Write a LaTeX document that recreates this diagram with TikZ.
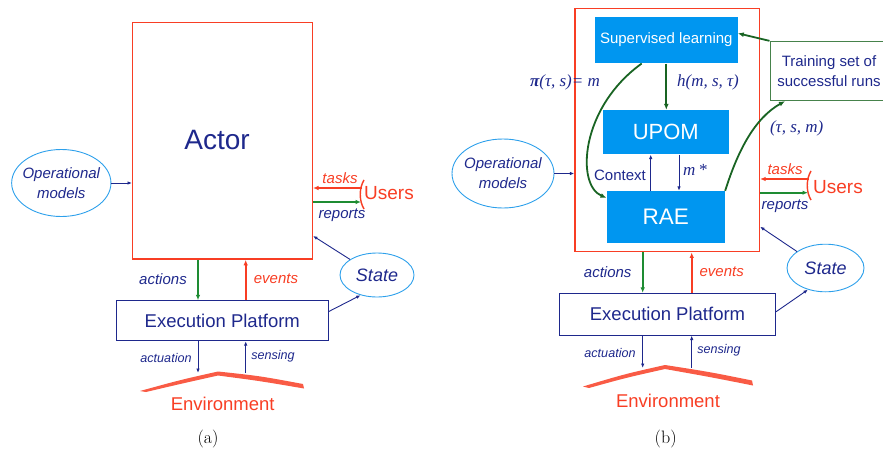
\documentclass[tikz,border=0pt]{standalone}
\usepackage{fontspec}
\newfontfamily\arialf{Liberation Sans}
\newfontfamily\timesf{Liberation Serif}
\usepackage{xcolor}
\usepackage{tikz}
\usetikzlibrary{positioning,calc,shapes.geometric,arrows.meta}

\definecolor{actnavy}{RGB}{30,40,140}
\definecolor{actred}{RGB}{248,62,36}
\definecolor{actgreen}{RGB}{30,140,50}
\definecolor{learngreen}{RGB}{25,100,35}
\definecolor{traingreen}{RGB}{70,130,75}
\definecolor{actsky}{RGB}{45,160,235}
\definecolor{actblue}{RGB}{0,150,240}

\tikzset{
  actorbox/.style={draw=actred,line width=1.4pt,inner sep=0pt},
  procbox/.style={fill=actblue,text=white,inner sep=0pt},
  platbox/.style={draw=actnavy,line width=0.9pt,inner sep=0pt,text=actnavy,font=\arialf\fontsize{18.5}{20}\selectfont},
  oval/.style={ellipse,draw=actsky,line width=0.9pt,inner sep=0pt},
  navytxt/.style={text=actnavy,font=\arialf\itshape\fontsize{15}{20}\selectfont,inner sep=0pt,align=center},
  redtxt/.style={text=actred,font=\arialf\itshape\fontsize{15}{20}\selectfont,inner sep=0pt},
  smalltxt/.style={text=actnavy,font=\arialf\itshape\fontsize{12.6}{15}\selectfont,inner sep=0pt},
  mathtxt/.style={text=actnavy,font=\timesf\itshape\fontsize{17}{20}\selectfont,inner sep=0pt},
  userstxt/.style={text=actred,font=\arialf\fontsize{19}{20}\selectfont,inner sep=0pt},
  envtxt/.style={text=actred,font=\arialf\fontsize{18.5}{20}\selectfont,inner sep=0pt},
  thinarrow/.style={draw=actnavy,line width=0.9pt,-{Latex[length=4.5pt,width=3.5pt]}},
  greenarrow/.style={draw=actgreen,line width=1.7pt,-{Latex[length=5.5pt,width=4.5pt]}},
  redarrow/.style={draw=actred,line width=1.7pt,-{Latex[length=5.5pt,width=4.5pt]}},
  learnarrow/.style={draw=learngreen,line width=1.8pt,-{Latex[length=6pt,width=5pt]}},
  bracket/.style={draw=actred,line width=1.4pt},
  envstroke/.style={fill=actred,opacity=0.85},
  caption/.style={font=\fontsize{18}{20}\selectfont,inner sep=0pt}
}

\begin{document}
\begin{tikzpicture}[x=1pt,y=-1pt]
  \useasboundingbox (0,0) rectangle (883,455);
  \clip (0,0) rectangle (883,455);

  % ---------- (a) ----------
  \node[actorbox,minimum width=179.6pt,minimum height=236.4pt] (actorA) at (222.5,140.9) {};
  \node[text=actnavy,font=\arialf\fontsize{28}{30}\selectfont,inner sep=0pt] (actorlblA) at (217,140) {Actor};

  \node[oval,minimum width=99.3pt,minimum height=67pt] (opmA) at (61.3,183) {};
  \node[navytxt] (opmlblA) at (opmA) {Operational\\models};
  \draw[thinarrow] (opmA) -- (opmA -| actorA.west);

  \node[userstxt] (usersA) at (389,193) {Users};
  \draw[bracket] (364,180) .. controls (359,188) and (359,201) .. (364,209);
  \coordinate (tasksA) at (362,188);
  \coordinate (reportsA) at (361,202);
  \draw[redarrow] (tasksA) -- (tasksA -| actorA.east);
  \draw[greenarrow] (reportsA -| actorA.east) -- (reportsA);
  \node[redtxt] (taskslblA) at (340,178) {tasks};
  \node[navytxt] (reportslblA) at (342,215) {reports};

  \node[oval,minimum width=74pt,minimum height=44pt] (stateA) at (377,275) {};
  \node[text=actnavy,font=\arialf\itshape\fontsize{18}{20}\selectfont,inner sep=0pt] (statelblA) at (stateA) {State};
  \draw[thinarrow] (stateA.150) -- ([yshift=-95pt]actorA.east);

  \node[platbox,minimum width=211.3pt,minimum height=40pt] (execA) at (222.3,320.7) {Execution Platform};
  \draw[thinarrow] ([yshift=9pt]execA.east) -- (stateA.231);

  \coordinate (colLa) at (198,0);
  \coordinate (colRa) at (245.7,0);
  \coordinate (envA) at (218,373);
  \draw[greenarrow] (colLa |- actorA.south) -- (colLa |- execA.north);
  \draw[redarrow] (colRa |- execA.north) -- (colRa |- actorA.south);
  \node[navytxt] (actionslblA) at (163,279) {actions};
  \node[redtxt] (eventslblA) at (276,279) {events};
  \draw[thinarrow] (colLa |- execA.south) -- (colLa |- envA);
  \draw[thinarrow] (colRa |- envA) -- (colRa |- execA.south);
  \node[smalltxt] (actuationlblA) at (166,358) {actuation};
  \node[smalltxt] (sensinglblA) at (273,356) {sensing};

  % environment stroke
  \fill[envstroke] (140,391) .. controls (180,380) .. (218,371.5) .. controls (260,376) .. (303,384) -- (304,388.5) .. controls (260,381) .. (218,375.5) .. controls (180,384) .. (146,392) -- cycle;
  \node[envtxt] (envlblA) at (222.7,404) {Environment};
  \node[caption] (capA) at (208,439) {(a)};

  % ---------- (b) ----------
  \node[actorbox,minimum width=184.3pt,minimum height=243.4pt] (actorB) at (667.2,130) {};
  \node[procbox,minimum width=142.7pt,minimum height=46.6pt,font=\arialf\fontsize{15}{18}\selectfont] (sup) at (666.3,40) {Supervised learning};
  \node[procbox,minimum width=126.3pt,minimum height=44.3pt,font=\arialf\fontsize{22}{24}\selectfont] (upom) at (665.8,132.2) {UPOM};
  \node[procbox,minimum width=118.3pt,minimum height=52.3pt,font=\arialf\fontsize{22.5}{24}\selectfont] (rae) at (665.8,217.2) {RAE};

  \draw[learnarrow] (sup.south) -- (sup.south |- upom.north);
  \node[mathtxt] (hlbl) at (708,82) {h(m, s, τ)};

  \coordinate (colCtx) at (650.7,0);
  \coordinate (colM) at (679,0);
  \draw[thinarrow] (colCtx |- rae.north) -- (colCtx |- upom.south);
  \draw[thinarrow] (colM |- upom.south) -- (colM |- rae.north);
  \node[text=actnavy,font=\arialf\fontsize{15}{18}\selectfont,inner sep=0pt] (ctxlbl) at (620,175) {Context};
  \node[mathtxt] (mlbl) at (695,170) {m\,*};

  \node[mathtxt] (policy) at (565,82) {{\bfseries π}(τ, s)= m};
  \draw[learnarrow] ([xshift=-24.6pt]sup.south) .. controls (580,108) and (576,185) .. ([yshift=-7pt]rae.north west);

  \node[draw=traingreen,line width=1pt,minimum width=118pt,minimum height=59.3pt,inner sep=0pt,text=actnavy,font=\arialf\fontsize{15}{19.5}\selectfont,align=center] (train) at (829,71) {Training set of\\successful runs};
  \draw[learnarrow] (train.north west) -- ([yshift=6.7pt]sup.east);
  \draw[learnarrow] (rae.north east) .. controls (738,150) and (755,118) .. (train.south west -| 785,0);
  \node[mathtxt] (tsmlbl) at (796.7,128) {(τ, s, m)};

  \node[oval,minimum width=102pt,minimum height=69pt] (opmB) at (503,173.5) {};
  \node[navytxt] (opmlblB) at (opmB) {Operational\\models};
  \draw[thinarrow] (opmB) -- (opmB -| actorB.west);

  \node[userstxt] (usersB) at (838,187) {Users};
  \draw[bracket] (811,171) .. controls (806,179) and (806,192) .. (811,200);
  \coordinate (tasksB) at (809,179);
  \coordinate (reportsB) at (808,192.7);
  \draw[redarrow] (tasksB) -- (tasksB -| actorB.east);
  \draw[greenarrow] (reportsB -| actorB.east) -- (reportsB);
  \node[redtxt] (taskslblB) at (785,169) {tasks};
  \node[navytxt] (reportslblB) at (785,206) {reports};

  \node[oval,minimum width=77pt,minimum height=47.6pt] (stateB) at (825.5,268) {};
  \node[text=actnavy,font=\arialf\itshape\fontsize{18}{20}\selectfont,inner sep=0pt] (statelblB) at (stateB) {State};
  \draw[thinarrow] (stateB.150) -- ([yshift=-96.7pt]actorB.east);

  \node[platbox,minimum width=216.4pt,minimum height=41.7pt] (execB) at (667.5,314.2) {Execution Platform};
  \draw[thinarrow] ([yshift=2.5pt]execB.east) -- (stateB.231);

  \coordinate (colLb) at (642.7,0);
  \coordinate (colRb) at (691.7,0);
  \coordinate (envB) at (665,368);
  \draw[greenarrow] (colLb |- actorB.south) -- (colLb |- execB.north);
  \draw[redarrow] (colRb |- execB.north) -- (colRb |- actorB.south);
  \node[navytxt] (actionslblB) at (607.7,272) {actions};
  \node[redtxt] (eventslblB) at (721.7,272) {events};
  \draw[thinarrow] (colLb |- execB.south) -- (colLb |- envB);
  \draw[thinarrow] (colRb |- envB) -- (colRb |- execB.south);
  \node[smalltxt] (actuationlblB) at (610,353) {actuation};
  \node[smalltxt] (sensinglblB) at (719,350) {sensing};

  % environment stroke
  \fill[envstroke] (583,386.5) .. controls (625,374) .. (665,365) .. controls (710,372) .. (752,380.5) -- (753,385.5) .. controls (710,377) .. (665,369) .. controls (625,378) .. (589,388) -- cycle;
  \node[envtxt] (envlblB) at (668,400.7) {Environment};
  \node[caption] (capB) at (665.7,439) {(b)};
\end{tikzpicture}
\end{document}
